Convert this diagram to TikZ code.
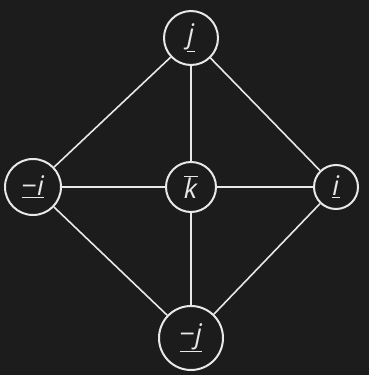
\documentclass[tikz,border=0pt]{standalone}
\usepackage{fontspec}
\setmainfont{Open Sans}
\usepackage{tikz}
\usetikzlibrary{positioning, backgrounds}
\definecolor{bgdark}{HTML}{1C1C1C}
\definecolor{edgegray}{HTML}{E8E8E8}

\begin{document}
\begin{tikzpicture}[
        x=1pt, y=-1pt,
        elem/.style = {draw=edgegray, circle, line width=2pt, inner sep=2pt, text=edgegray,
                       font=\fontsize{27}{32}\selectfont},
        link/.style = {draw=edgegray, line width=1.6pt},
    ]
        \fill[bgdark] (0,0) rectangle (369,375);
        \useasboundingbox (0,0) rectangle (369,375);
        \node[elem, minimum size=54pt] (jpos) at (191,38)  {$\underline{\mbox{\textit{j}}}$};
        \node[elem, minimum size=56pt] (ineg) at (33,187)  {$\underline{\mbox{−\textit{i}}}$};
        \node[elem, minimum size=50pt] (kbar) at (191,187) {$\overline{\mbox{\textit{k}}}$};
        \node[elem, minimum size=44pt] (ipos) at (336,187) {$\underline{\mbox{\textit{i}}}$};
        \node[elem, minimum size=64pt] (jneg) at (191,338) {$\underline{\mbox{−\textit{j}}}$};
        \draw[link] (jpos) -- (kbar);
        \draw[link] (kbar) -- (jneg);
        \draw[link] (ineg) -- (kbar);
        \draw[link] (kbar) -- (ipos);
        \draw[link] (jpos) -- (ineg);
        \draw[link] (jpos) -- (ipos);
        \draw[link] (jneg) -- (ineg);
        \draw[link] (jneg) -- (ipos);
    \end{tikzpicture}
\end{document}
